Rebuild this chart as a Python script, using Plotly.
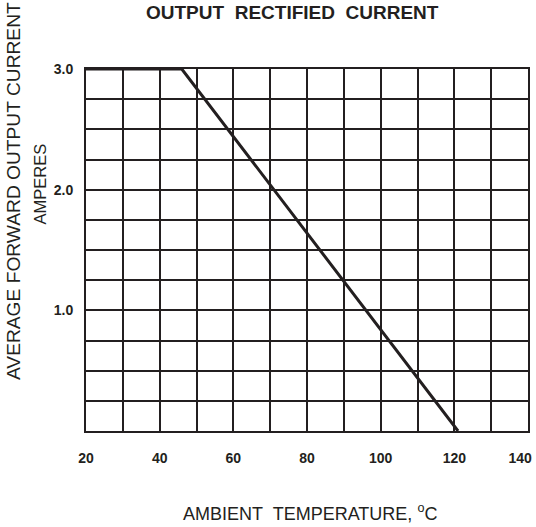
import plotly.graph_objects as go

# Data
temperature_c = [20, 46, 121]
current_a = [3.0, 3.0, 0.0]

x_tick_vals = [20, 40, 60, 80, 100, 120, 140]
x_tick_text = ["20", "40", "60", "80", "100", "120", "140"]
y_tick_vals = [1.0, 2.0, 3.0]
y_tick_text = ["1.0", "2.0", "3.0"]
x_minor_step = 10
y_minor_step = 0.25

NB = "\u00a0"
title_text = f"OUTPUT{NB} RECTIFIED{NB} CURRENT"
x_title = f"AMBIENT{NB} TEMPERATURE, <sup>o</sup>C"
y_title_1 = "AVERAGE FORWARD OUTPUT CURRENT"
y_title_2 = "AMPERES"

INK = "#231f20"
FONT = "Liberation Sans, Arial, sans-serif"

W, H = 536, 527
L, R, T, B = 86, 8, 69, 96
PW, PH = W - L - R, H - T - B


def px_x(px):
    return (px - L) / PW


def px_y(py):
    return (H - B - py) / PH


# keep the last x label inside the frame, as in the reference
x_tick_labels = [t if t != "140" else t + NB * 4 for t in x_tick_text]

fig = go.Figure()
fig.add_trace(go.Scatter(
    x=temperature_c, y=current_a, mode="lines",
    line=dict(color=INK, width=3), showlegend=False, hoverinfo="skip",
))

axis_common = dict(
    showgrid=True, gridcolor=INK, gridwidth=2,
    showline=True, linecolor=INK, linewidth=2, mirror=True,
    zeroline=False, ticks="", ticklabeloverflow="allow", automargin=False,
    tickfont=dict(family=FONT, size=14, color=INK, weight="bold"),
)

fig.update_xaxes(range=[20, 140], tickmode="array", tickvals=x_tick_vals, ticktext=x_tick_labels,
                 ticklabelstandoff=13,
                 minor=dict(tick0=20, dtick=x_minor_step, showgrid=True, gridcolor=INK,
                            gridwidth=2, ticks=""),
                 **axis_common)
fig.update_yaxes(range=[0, 3.0], tickmode="array", tickvals=y_tick_vals, ticktext=y_tick_text,
                 ticklabelstandoff=8,
                 minor=dict(tick0=0, dtick=y_minor_step, showgrid=True, gridcolor=INK,
                            gridwidth=2, ticks=""),
                 **axis_common)

annotations = [
    dict(text=title_text, xref="paper", yref="paper", x=px_x(292), y=px_y(12),
         xanchor="center", yanchor="middle", showarrow=False,
         font=dict(family=FONT, size=19, color=INK, weight="bold")),
    dict(text=x_title, xref="paper", yref="paper", x=px_x(310), y=px_y(512),
         xanchor="center", yanchor="middle", showarrow=False,
         font=dict(family=FONT, size=18, color=INK)),
    dict(text=y_title_1, xref="paper", yref="paper", x=px_x(13), y=px_y(191),
         xanchor="center", yanchor="middle", showarrow=False, textangle=-90,
         font=dict(family=FONT, size=19.2, color=INK)),
    dict(text=y_title_2, xref="paper", yref="paper", x=px_x(39.5), y=px_y(184),
         xanchor="center", yanchor="middle", showarrow=False, textangle=-90,
         font=dict(family=FONT, size=16.5, color=INK)),
]

fig.update_layout(
    width=W, height=H,
    margin=dict(l=L, r=R, t=T, b=B, pad=0, autoexpand=False),
    paper_bgcolor="white", plot_bgcolor="white",
    annotations=annotations,
)

fig.write_html("out.html", config={"displayModeBar": False},
               post_script="document.body.style.margin='0';")
